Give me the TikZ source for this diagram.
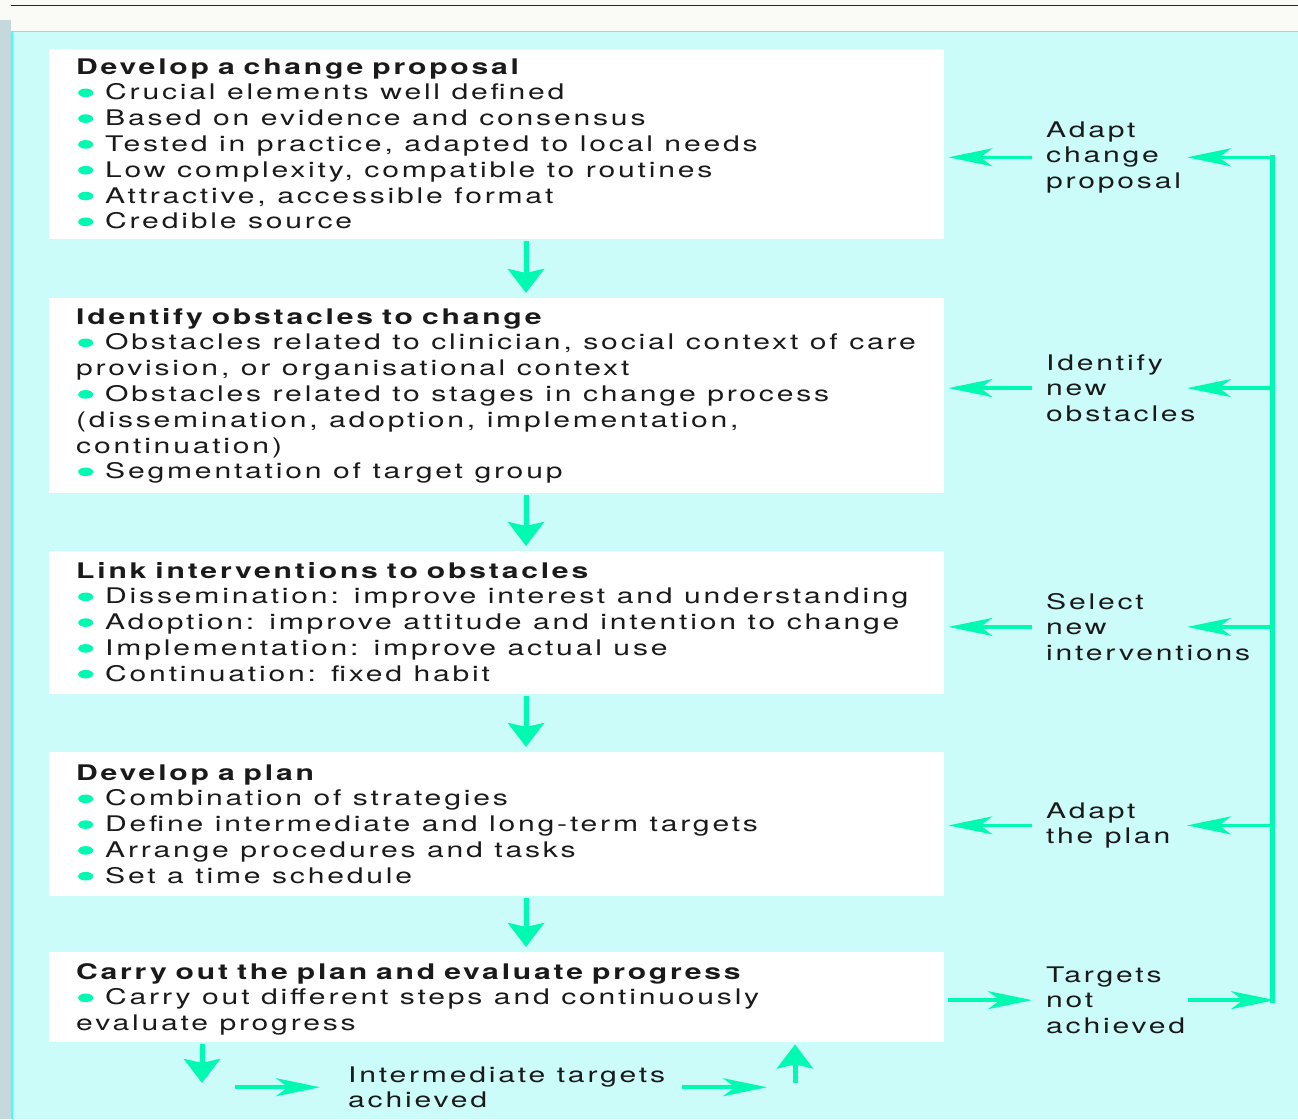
\documentclass[tikz,border=0pt]{standalone}
\usepackage{fontspec}
\setmainfont{TeX Gyre Heros}[FakeStretch=1.40,LetterSpace=13]
\usetikzlibrary{arrows.meta}
\definecolor{bg}{RGB}{204,252,250}
\definecolor{framec}{RGB}{64,255,255}
\definecolor{stripc}{RGB}{197,216,220}
\definecolor{ac}{RGB}{0,250,178}
\definecolor{txt}{RGB}{26,26,26}
\definecolor{paper}{RGB}{250,250,247}
\newcommand\bul{\hspace*{2pt}\tikz[baseline=0pt]\fill[ac] (7.5pt,7pt) ellipse (7.5pt and 4.3pt);\hspace{12pt}}
\newcommand\ttl[1]{{\bfseries\spaceskip=9pt\relax #1}}
\tikzset{
  boxn/.style={fill=white, draw=none, anchor=north west, inner sep=0pt, minimum width=895pt},
  txtn/.style={anchor=base west, inner sep=0pt, text width=1000pt, align=left,
    font=\fontsize{21.5}{25.8}\selectfont, text=txt,
    execute at begin node={\spaceskip=11.5pt\xspaceskip=15pt\relax}},
  labn/.style={txtn, text width=240pt},
  varr/.style={draw=ac, line width=5pt, -{Stealth[length=24pt,width=36pt,inset=4pt]}},
  harr/.style={draw=ac, line width=3.5pt, -{Stealth[length=44pt,width=18pt,inset=12pt]}},
  busn/.style={draw=ac, line width=5pt, line cap=rect}
}
\begin{document}
\begin{tikzpicture}[x=1pt,y=-1pt]
\useasboundingbox (0,0) rectangle (1298,1119);
\fill[paper] (0,0) rectangle (1298,1119);
\fill[stripc] (0,20) rectangle (11,1119);
\fill[bg] (11,31) rectangle (1298,1119);
\draw[framec, line width=1.6pt] (11.8,1119) -- (11.8,31.5) -- (1298,31.5);
\draw[black!85, line width=1.3pt] (11,5.5) -- (1298,5.5);

% boxes
\node[boxn, minimum height=190pt] (box1) at (49,49) {};
\node[boxn, minimum height=195pt] (box2) at (49,298) {};
\node[boxn, minimum height=143pt] (box3) at (49,551) {};
\node[boxn, minimum height=144pt] (box4) at (49,752) {};
\node[boxn, minimum height=90pt]  (box5) at (49,952) {};

% box texts
\node[txtn] (t1) at (76,74) {\ttl{Develop a change proposal}\\
\bul Crucial elements well defined\\
\bul Based on evidence and consensus\\
\bul Tested in practice, adapted to local needs\\
\bul Low complexity, compatible to routines\\
\bul Attractive, accessible format\\
\bul Credible source};
\node[txtn] (t2) at (76,324) {\ttl{Identify obstacles to change}\\
\bul Obstacles related to clinician, social context of care\\
provision, or organisational context\\
\bul Obstacles related to stages in change process\\
(dissemination, adoption, implementation,\\
continuation)\\
\bul Segmentation of target group};
\node[txtn] (t3) at (76,578) {\ttl{Link interventions to obstacles}\\
\bul Dissemination: improve interest and understanding\\
\bul Adoption: improve attitude and intention to change\\
\bul Implementation: improve actual use\\
\bul Continuation: fixed habit};
\node[txtn] (t4) at (76,780) {\ttl{Develop a plan}\\
\bul Combination of strategies\\
\bul Define intermediate and long-term targets\\
\bul Arrange procedures and tasks\\
\bul Set a time schedule};
\node[txtn] (t5) at (76,979) {\ttl{Carry out the plan and evaluate progress}\\
\bul Carry out different steps and continuously\\
evaluate progress};

% right labels
\node[labn] (r1) at (1046,137) {Adapt\\change\\proposal};
\node[labn] (r2) at (1046,370) {Identify\\new\\obstacles};
\node[labn] (r3) at (1046,609) {Select\\new\\interventions};
\node[labn] (r4) at (1046,818) {Adapt\\the plan};
\node[labn] (r5) at (1046,982) {Targets\\not\\achieved};
\node[labn, text width=400pt] (inter) at (348,1082) {Intermediate targets\\achieved};

% vertical flow arrows
\foreach \a/\b in {box1/box2,box2/box3,box3/box4,box4/box5}
  \draw[varr, shorten <=2pt, shorten >=5pt] ([xshift=477pt]\a.south west) -- ([xshift=477pt]\b.north west);

% feedback arrows into boxes
\foreach \r/\b in {r1/box1,r2/box2,r3/box3,r4/box4}
  \draw[harr, shorten >=4pt] ([xshift=-14pt]\r.west) -- (\r.west -| \b.east);
\draw[harr, shorten <=4pt] (r5.west -| box5.east) -- ([xshift=-14pt]r5.west);

% bus on the right
\coordinate (bus) at (1272,1001);
\draw[busn] (bus |- r5.west) -- (bus |- r1.west);
\draw[harr] ([xshift=142pt]r5.west) -- ([xshift=3pt]bus |- r5.west);
\foreach \r in {r1,r2,r3,r4}
  \draw[harr] (bus |- \r.west) -- ([xshift=141pt]\r.west);

% bottom loop
\coordinate (d1) at (202,1083);
\coordinate (u1) at (795,1083);
\draw[varr, shorten <=2pt] (d1 |- box5.south) -- (d1);
\draw[harr] ([xshift=-113pt]inter.west) -- ([xshift=-28pt]inter.west);
\draw[harr] ([xshift=334pt]inter.west) -- ([xshift=419pt]inter.west);
\draw[varr, shorten >=2pt] (u1) -- (u1 |- box5.south);
\end{tikzpicture}
\end{document}
